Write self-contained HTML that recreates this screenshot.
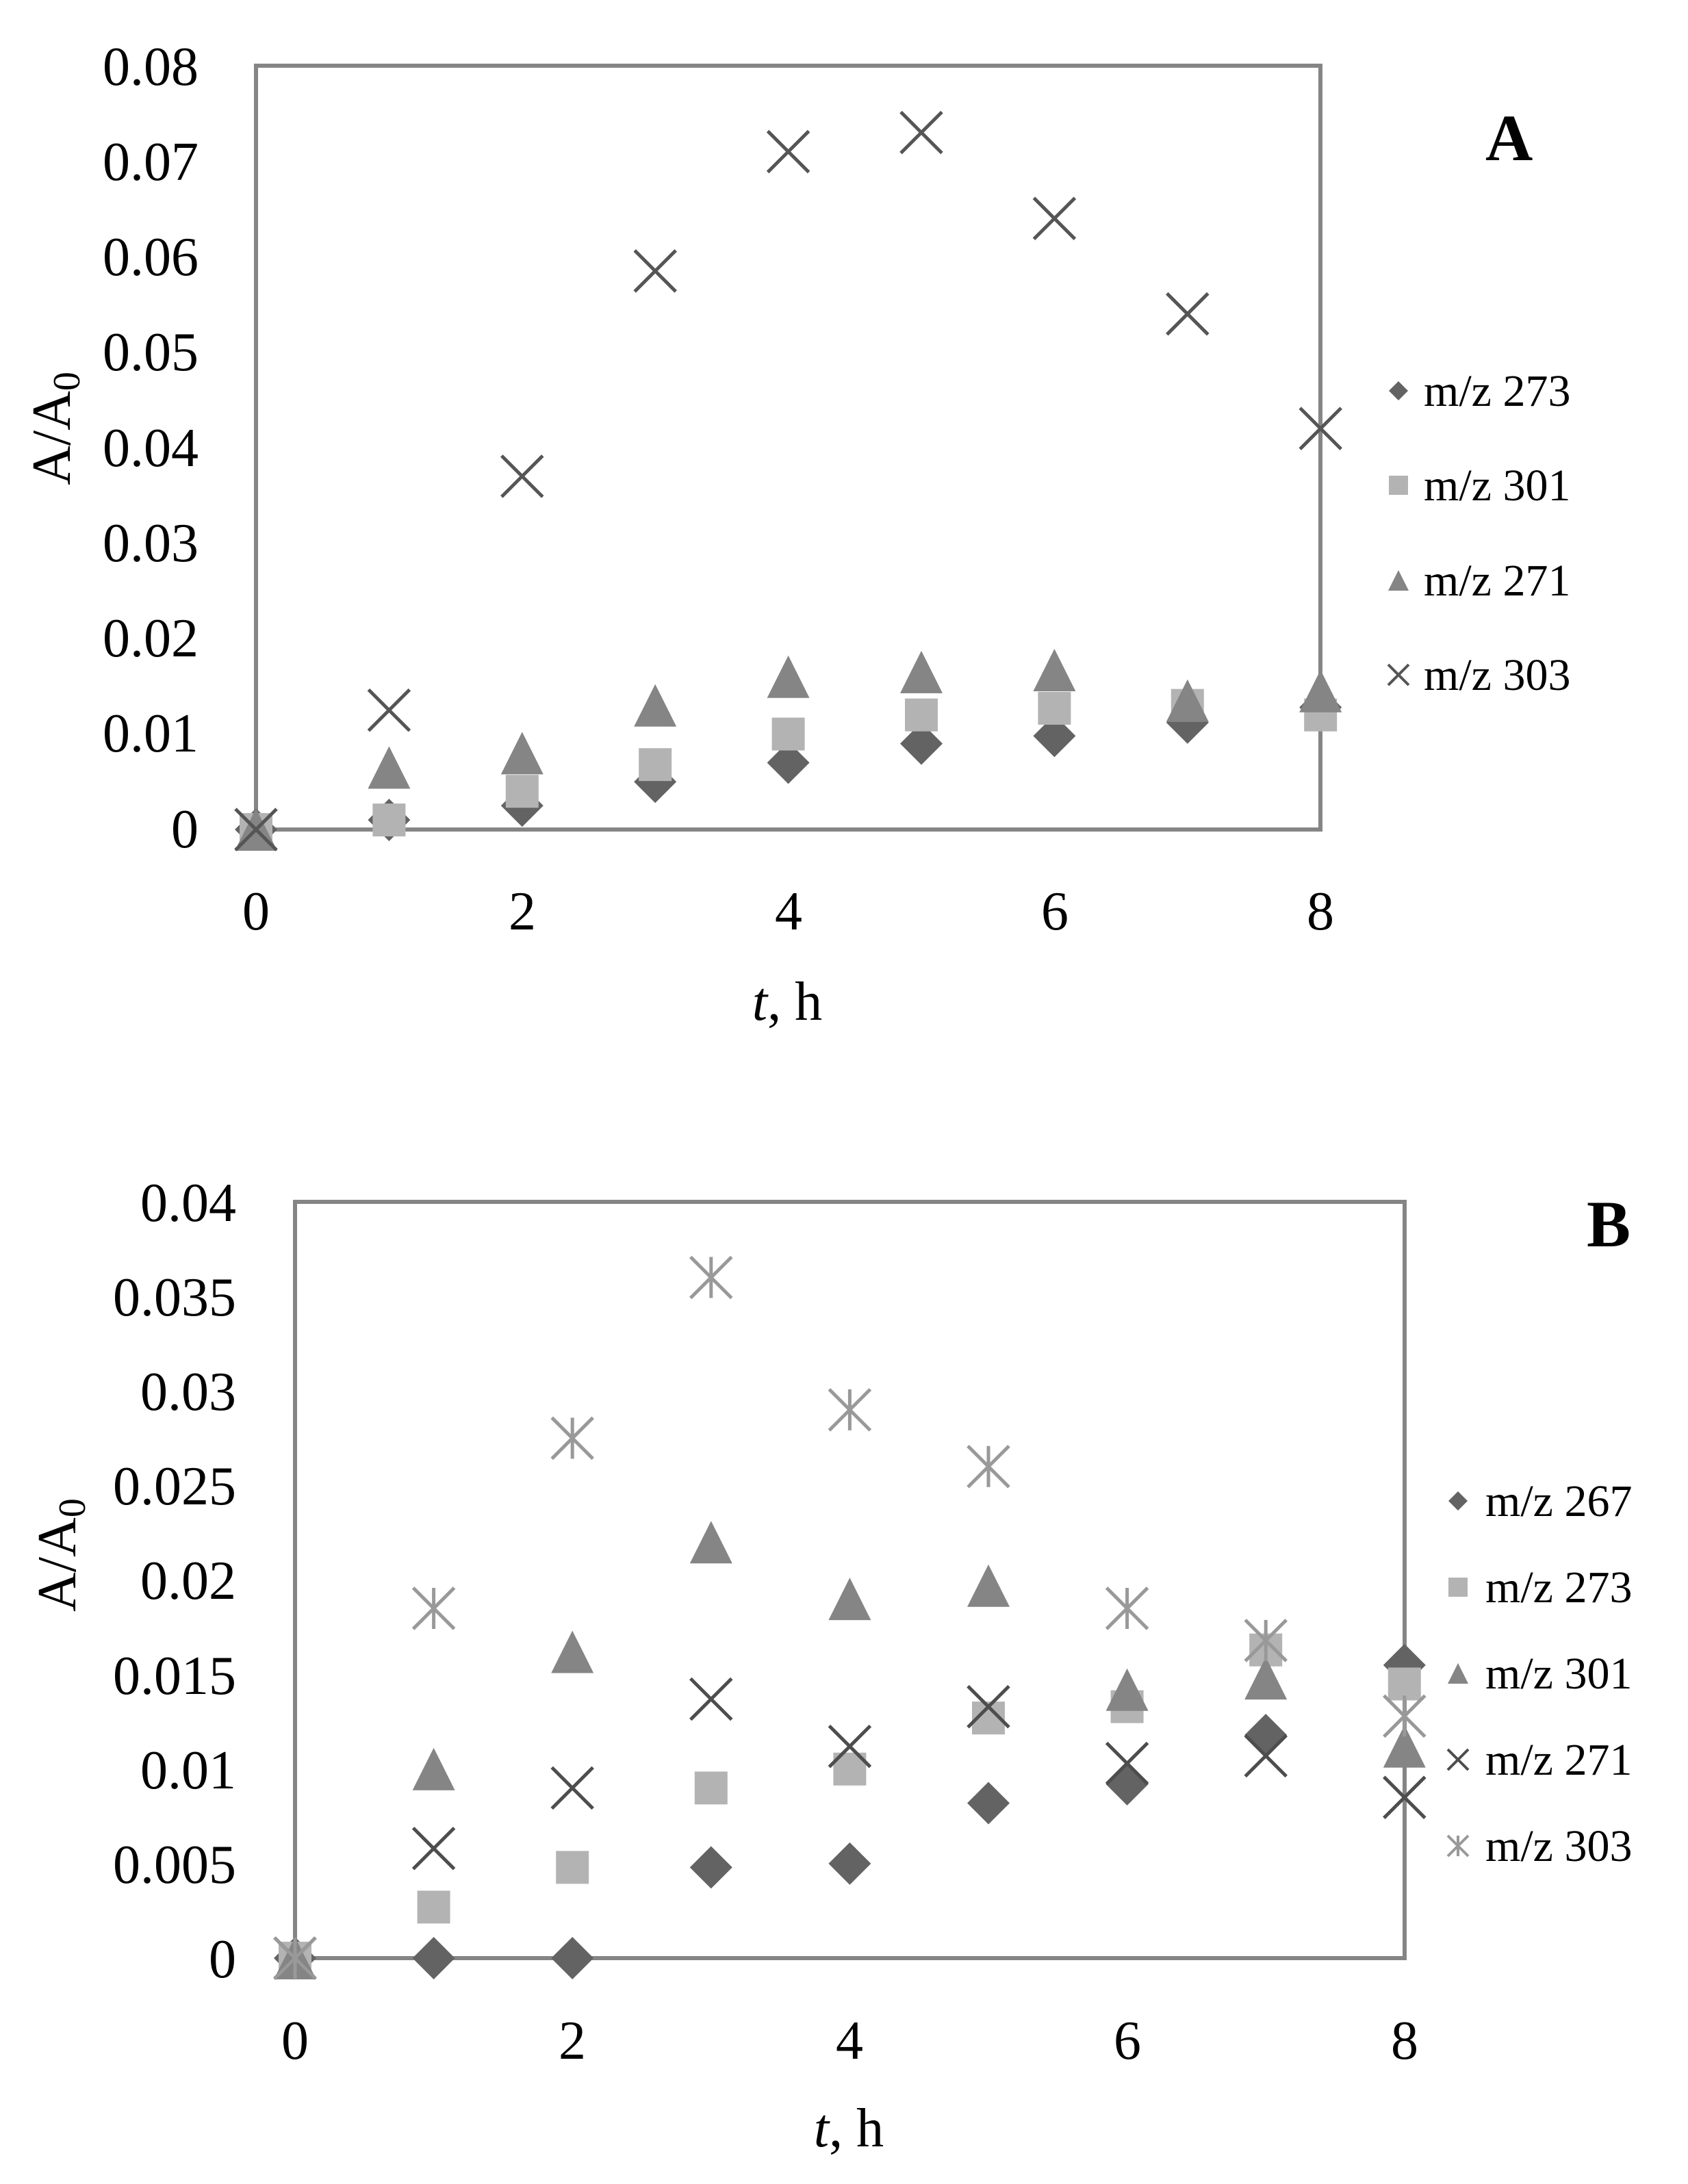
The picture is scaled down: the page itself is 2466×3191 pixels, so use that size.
<!DOCTYPE html>
<html><head><meta charset="utf-8"><style>
html,body{margin:0;padding:0;background:#fff;}
svg{display:block;}
text{font-family:"Liberation Serif",serif;fill:#000;}
</style></head><body>
<svg id="s" width="2466" height="3191" viewBox="0 0 2466 3191" xmlns="http://www.w3.org/2000/svg">
<rect x="0" y="0" width="2466" height="3191" fill="#fff"/>
<!-- Chart A frame -->
<rect x="374" y="96" width="1555" height="1116" fill="none" stroke="#858585" stroke-width="6"/>
<g font-size="80" text-anchor="end">
<text x="290" y="124">0.08</text>
<text x="290" y="263">0.07</text>
<text x="290" y="402">0.06</text>
<text x="290" y="541">0.05</text>
<text x="290" y="681">0.04</text>
<text x="290" y="820">0.03</text>
<text x="290" y="959">0.02</text>
<text x="290" y="1098">0.01</text>
<text x="290" y="1238">0</text>
</g>
<g font-size="80" text-anchor="middle">
<text x="374" y="1358">0</text>
<text x="763" y="1358">2</text>
<text x="1152" y="1358">4</text>
<text x="1541" y="1358">6</text>
<text x="1929" y="1358">8</text>
</g>
<text x="1150" y="1490" font-size="80" text-anchor="middle"><tspan font-style="italic">t</tspan>, h</text>
<text transform="translate(102,626) rotate(-90)" font-size="80" text-anchor="middle">A/A<tspan font-size="56" dy="14">0</tspan></text>
<text x="2170" y="234" font-size="96" font-weight="bold">A</text>
<g font-size="66">
<text x="2080" y="593">m/z 273</text>
<text x="2080" y="731">m/z 301</text>
<text x="2080" y="870">m/z 271</text>
<text x="2080" y="1008">m/z 303</text>
</g>
<!-- Chart B frame -->
<rect x="431" y="1756" width="1621" height="1105" fill="none" stroke="#858585" stroke-width="6"/>
<g font-size="80" text-anchor="end">
<text x="345" y="1784">0.04</text>
<text x="345" y="1922">0.035</text>
<text x="345" y="2060">0.03</text>
<text x="345" y="2198">0.025</text>
<text x="345" y="2336">0.02</text>
<text x="345" y="2475">0.015</text>
<text x="345" y="2613">0.01</text>
<text x="345" y="2751">0.005</text>
<text x="345" y="2889">0</text>
</g>
<g font-size="80" text-anchor="middle">
<text x="431" y="3008">0</text>
<text x="836" y="3008">2</text>
<text x="1241" y="3008">4</text>
<text x="1647" y="3008">6</text>
<text x="2052" y="3008">8</text>
</g>
<text x="1240" y="3136" font-size="80" text-anchor="middle"><tspan font-style="italic">t</tspan>, h</text>
<text transform="translate(110,2272) rotate(-90)" font-size="80" text-anchor="middle">A/A<tspan font-size="56" dy="14">0</tspan></text>
<text x="2318" y="1821" font-size="96" font-weight="bold">B</text>
<g font-size="66">
<text x="2170" y="2215">m/z 267</text>
<text x="2170" y="2341">m/z 273</text>
<text x="2170" y="2467">m/z 301</text>
<text x="2170" y="2593">m/z 271</text>
<text x="2170" y="2719">m/z 303</text>
</g>
<g id="m"></g>
</svg>
<script>
var g=document.getElementById('m'),h='';
function dia(x,y,s,c){h+='<polygon points="'+x+','+(y-s)+' '+(x+s)+','+y+' '+x+','+(y+s)+' '+(x-s)+','+y+'" fill="'+c+'"/>';}
function sq(x,y,s,c){h+='<rect x="'+(x-s)+'" y="'+(y-s)+'" width="'+(2*s)+'" height="'+(2*s)+'" fill="'+c+'"/>';}
function tri(x,y,s,c){h+='<polygon points="'+x+','+(y-s)+' '+(x+s)+','+(y+s)+' '+(x-s)+','+(y+s)+'" fill="'+c+'"/>';}
function xx(x,y,s,c,w){h+='<path d="M'+(x-s)+' '+(y-s)+'L'+(x+s)+' '+(y+s)+'M'+(x+s)+' '+(y-s)+'L'+(x-s)+' '+(y+s)+'" stroke="'+c+'" stroke-width="'+w+'"/>';}
function ast(x,y,s,c,w){xx(x,y,s,c,w);h+='<path d="M'+x+' '+(y-s)+'L'+x+' '+(y+s)+'" stroke="'+c+'" stroke-width="'+w+'"/>';}
// Chart A
var ax=function(t){return 374+t*194.4}, ay=function(v){return 1212-v*13950};
var A=[
[[0,.001,.0025,.005,.007,.009,.0098,.0112,.0128],dia,31,'#636363'],
[[0,.001,.004,.0068,.010,.012,.0127,.013,.012],sq,24,'#b3b3b3'],
[[0,.0065,.008,.013,.016,.0165,.0167,.0135,.0145],tri,31,'#858585'],
];
A.forEach(function(s){s[0].forEach(function(v,i){s[1](ax(i),ay(v),s[2],s[3]);});});
[0,.0125,.037,.0585,.071,.073,.064,.054,.042].forEach(function(v,i){xx(ax(i),ay(v),30,'#555',5);});
// legend A
dia(2043,571,14,'#636363');sq(2043,709,14,'#b3b3b3');tri(2043,848,15,'#858585');xx(2043,986,15,'#555',4);
// Chart B
var bx=function(t){return 431+t*202.6}, by=function(v){return 2861-v*27625};
var B=[
[[0,0,0,.0048,.005,.0082,.0092,.0118,.0155],dia,31,'#636363'],
[[0,.0027,.0048,.009,.010,.0127,.0133,.0163,.0145],sq,24,'#b3b3b3'],
[[0,.010,.0162,.022,.019,.0197,.0142,.0148,.0112],tri,31,'#858585'],
];
B.forEach(function(s){s[0].forEach(function(v,i){s[1](bx(i),by(v),s[2],s[3]);});});
[0,.0058,.009,.0137,.0112,.0133,.0103,.0107,.0085].forEach(function(v,i){xx(bx(i),by(v),30,'#4d4d4d',5);});
[0,.0185,.0275,.036,.029,.026,.0185,.0168,.0128].forEach(function(v,i){ast(bx(i),by(v),30,'#999',5);});
dia(2130,2193,14,'#636363');sq(2130,2319,14,'#b3b3b3');tri(2130,2445,15,'#858585');xx(2130,2571,15,'#4d4d4d',4);ast(2130,2697,15,'#999',4);
g.innerHTML=h;
</script>
</body></html>
